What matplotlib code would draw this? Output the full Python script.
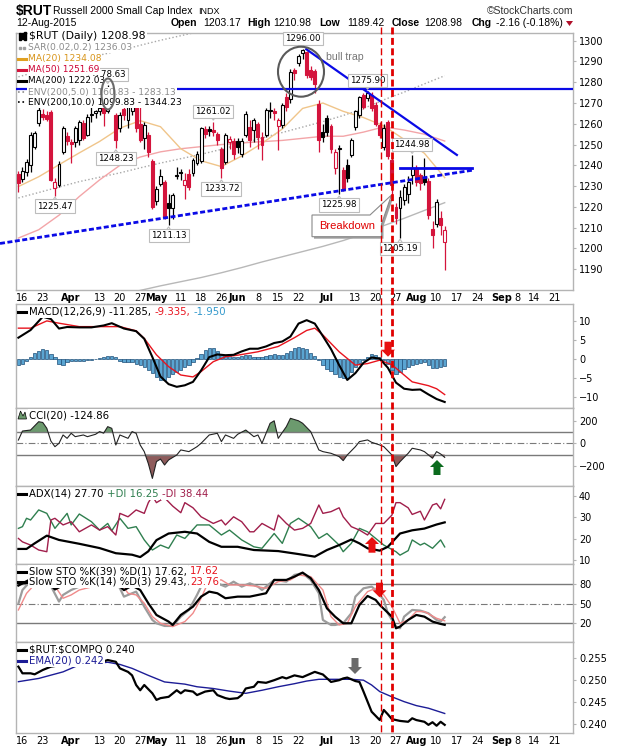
import matplotlib
matplotlib.use("Agg")
import matplotlib.pyplot as plt
from matplotlib.patches import Rectangle, Ellipse, Polygon
from matplotlib.lines import Line2D
import numpy as np

plt.rcParams['font.family'] = ['DejaVu Sans']
HEAD = ['Liberation Sans', 'DejaVu Sans']

W, H = 620, 750
RED = '#D4143C'

# trading day index: 0 = 13-Mar-2015 ... 105 = 12-Aug-2015
opens = [1236.0, 1233.5, 1237.0, 1240.0, 1249.0, 1260.3, 1264.6, 1264.0, 1265.9, 1229.0,
         1230.6, 1246.6, 1254.0, 1251.3, 1251.4, 1252.0, 1260.3, 1254.6, 1264.0, 1265.3,
         1266.0, 1268.0, 1266.0, 1275.0, 1264.0, 1257.8, 1267.2, 1262.0, 1266.0, 1268.0,
         1260.0, 1253.0, 1254.5, 1242.0, 1223.0, 1231.0, 1232.0, 1222.0, 1219.5, 1235.0,
         1237.0, 1230.5, 1236.0, 1236.4, 1241.0, 1242.0, 1257.5, 1257.5, 1257.0, 1255.0,
         1248.0, 1241.8, 1251.0, 1251.8, 1251.5, 1245.5, 1254.5, 1258.5, 1256.8, 1260.0,
         1253.8, 1254.6, 1266.0, 1266.0, 1259.0, 1259.4, 1273.0, 1271.8, 1285.9, 1289.4,
         1294.0, 1294.5, 1286.0, 1285.6, 1269.6, 1256.2, 1262.6, 1259.0, 1238.6, 1247.8,
         1237.6, 1240.0, 1245.0, 1258.5, 1264.0, 1273.7, 1272.3, 1274.0, 1269.0, 1259.4,
         1249.0, 1261.0, 1242.6, 1220.0, 1219.3, 1223.3, 1226.0, 1235.3, 1238.5, 1235.3,
         1233.7, 1232.4, 1209.6, 1212.0, 1214.5, 1203.17]
highs = [1237.5, 1239.0, 1243.0, 1256.0, 1256.5, 1268.0, 1267.0, 1266.0, 1266.5, 1234.0,
         1242.0, 1259.0, 1256.0, 1252.5, 1259.0, 1262.0, 1262.0, 1264.5, 1268.0, 1266.5,
         1270.0, 1271.0, 1278.63, 1277.0, 1265.0, 1265.5, 1269.0, 1269.0, 1272.0, 1269.0,
         1268.0, 1261.0, 1256.0, 1243.0, 1230.0, 1238.0, 1233.0, 1226.0, 1226.5, 1239.0,
         1238.0, 1236.5, 1238.0, 1243.5, 1247.0, 1258.5, 1259.0, 1259.0, 1261.02, 1256.0,
         1249.0, 1255.5, 1254.0, 1253.0, 1253.0, 1253.0, 1266.0, 1262.0, 1263.0, 1261.0,
         1256.0, 1267.5, 1270.5, 1267.5, 1263.0, 1270.0, 1275.0, 1286.5, 1287.0, 1293.5,
         1296.0, 1295.0, 1288.0, 1286.5, 1271.5, 1260.0, 1264.0, 1260.0, 1248.0, 1250.0,
         1239.0, 1243.0, 1253.0, 1266.5, 1273.5, 1275.0, 1275.9, 1275.5, 1270.5, 1261.0,
         1260.0, 1262.0, 1244.0, 1222.0, 1228.0, 1231.0, 1235.0, 1244.98, 1240.0, 1236.5,
         1243.4, 1234.0, 1213.0, 1224.0, 1218.0, 1210.98]
lows = [1227.0, 1232.0, 1235.0, 1237.0, 1248.0, 1259.0, 1262.0, 1261.5, 1232.5, 1225.47,
        1229.5, 1245.5, 1250.0, 1241.0, 1249.0, 1250.0, 1252.0, 1254.0, 1261.0, 1263.0,
        1264.0, 1259.0, 1265.0, 1270.0, 1248.23, 1256.0, 1262.0, 1258.0, 1264.0, 1256.0,
        1251.0, 1248.0, 1244.0, 1219.0, 1221.0, 1230.0, 1214.0, 1211.13, 1214.0, 1233.5,
        1233.0, 1224.0, 1228.0, 1235.0, 1240.0, 1241.0, 1253.0, 1254.0, 1254.0, 1250.0,
        1233.72, 1240.5, 1248.0, 1243.0, 1246.0, 1244.0, 1253.5, 1249.0, 1251.0, 1248.0,
        1242.6, 1253.5, 1263.0, 1262.0, 1247.5, 1258.0, 1266.0, 1270.0, 1281.0, 1288.0,
        1291.0, 1282.0, 1281.0, 1274.6, 1246.5, 1251.0, 1254.0, 1246.0, 1236.0, 1225.98,
        1227.5, 1232.0, 1244.0, 1257.0, 1263.0, 1267.0, 1271.0, 1266.0, 1259.0, 1253.0,
        1247.5, 1243.0, 1225.5, 1212.0, 1205.19, 1221.0, 1222.0, 1231.0, 1230.0, 1228.0,
        1230.5, 1214.0, 1200.0, 1210.5, 1206.6, 1189.42]
closes = [1231.5, 1237.5, 1241.5, 1254.6, 1255.5, 1266.7, 1263.5, 1262.5, 1233.0, 1232.2,
          1240.7, 1258.2, 1251.5, 1250.5, 1258.2, 1261.1, 1253.0, 1263.5, 1264.8, 1266.0,
          1267.5, 1265.0, 1276.0, 1273.0, 1252.3, 1264.3, 1264.0, 1268.0, 1270.5, 1258.0,
          1252.0, 1259.5, 1246.5, 1220.0, 1228.5, 1234.8, 1215.0, 1219.5, 1225.5, 1235.5,
          1236.2, 1233.0, 1229.6, 1242.8, 1245.5, 1257.8, 1255.0, 1256.5, 1256.0, 1252.0,
          1238.7, 1254.5, 1252.6, 1245.4, 1249.0, 1251.8, 1264.5, 1252.0, 1261.7, 1253.7,
          1249.8, 1266.6, 1266.8, 1265.0, 1261.8, 1269.0, 1268.2, 1285.0, 1284.3, 1292.7,
          1295.6, 1283.5, 1282.5, 1279.3, 1252.0, 1253.8, 1256.0, 1248.0, 1246.6, 1248.3,
          1228.8, 1233.7, 1252.0, 1266.0, 1272.9, 1268.0, 1274.7, 1267.5, 1260.0, 1254.6,
          1258.0, 1244.5, 1230.5, 1214.5, 1224.9, 1229.7, 1232.0, 1238.5, 1232.1, 1231.3,
          1232.1, 1216.0, 1206.4, 1222.5, 1211.14, 1208.98]

ma_idx = list(range(0, 106, 5))
ma20 = [1229.8, 1234.5, 1240.3, 1246.0, 1251.5, 1257.9, 1261.5, 1258.6, 1248.0, 1242.2, 1239.4,
        1244.5, 1250.6, 1257.5, 1267.4, 1270.0, 1266.0, 1263.0, 1259.0, 1252.5, 1245.8, 1234.08]
ma50 = [1205.0, 1209.0, 1216.0, 1225.0, 1233.0, 1240.0, 1244.0, 1246.5, 1248.0, 1249.0, 1250.0,
        1250.8, 1251.4, 1252.0, 1253.0, 1254.0, 1254.0, 1256.0, 1258.5, 1257.0, 1255.0, 1251.69]
ma200 = [1166.0, 1168.5, 1171.0, 1173.5, 1175.5, 1177.5, 1179.8, 1182.0, 1184.0, 1186.0, 1188.3,
         1190.8, 1193.5, 1196.0, 1198.5, 1201.0, 1203.8, 1207.0, 1211.0, 1214.5, 1218.3, 1222.03]

macd_idx = [0, 3, 6, 8, 10, 12, 15, 18, 21, 23, 26, 29, 31, 33, 35, 37, 39, 41, 43, 45, 47, 49,
            51, 53, 55, 57, 59, 61, 63, 65, 67, 69, 71, 73, 75, 77, 79, 81, 83, 85, 87, 89, 91,
            93, 95, 97, 99, 101, 103, 105]
macd_val = [5.6, 7.6, 11.1, 10.5, 8.0, 8.4, 8.3, 8.3, 8.8, 9.4, 8.0, 7.3, 5.3, 0.5, -4.6, -6.6,
            -7.3, -6.9, -6.0, -3.0, 0.5, 1.2, 1.0, 1.1, 2.0, 2.7, 2.7, 3.3, 4.2, 4.6, 5.9, 9.3,
            10.2, 9.3, 6.0, 2.6, -1.6, -5.5, -3.7, -1.0, 0.4, 0.1, -2.3, -6.2, -7.8, -8.1, -8.0,
            -9.3, -10.5, -11.285]
sig_idx = [0, 3, 7, 10, 15, 20, 25, 29, 31, 34, 37, 40, 43, 45, 48, 51, 54, 59, 64, 68, 71, 73,
           75, 79, 83, 86, 89, 92, 97, 101, 103, 105]
sig_val = [8.1, 8.1, 10.0, 9.4, 8.5, 8.5, 8.5, 7.4, 5.4, 1.1, -2.0, -4.2, -4.7, -3.3, -0.7, 0.6,
           1.0, 1.9, 3.3, 5.6, 7.5, 8.1, 6.3, 1.9, -1.6, -1.2, -0.3, -1.5, -6.0, -7.0, -7.8, -9.335]
hist = [-1.5, -1.2, -0.5, 0.5, 1.5, 2.2, 2.6, 2.4, 1.2, 0.5,
        -1.2, -1.6, -0.8, -0.6, -0.5, -0.4, -0.5, -0.3, -0.2, 0.1,
        0.3, 0.5, 0.7, 0.8, 0.5, -0.6, -0.7, -0.8, -0.9, -1.2,
        -1.5, -2.0, -2.8, -3.8, -4.8, -5.5, -5.4, -4.8, -4.0, -3.4,
        -2.8, -2.2, -1.5, -0.9, 0.2, 1.4, 2.4, 3.0, 2.8, 2.0,
        1.0, 0.8, 0.9, 0.6, 0.5, 0.8, 1.0, 1.0, 0.6, 0.4,
        0.5, 0.8, 1.0, 1.2, 1.0, 1.1, 1.5, 2.2, 2.8, 3.2,
        3.0, 2.5, 1.5, 0.8, -0.2, -1.5, -2.5, -3.2, -4.0, -4.6,
        -5.0, -5.0, -3.5, -2.2, -1.0, -0.3, 0.6, 1.2, 1.0, 0.4,
        -0.3, -1.2, -2.8, -4.0, -3.4, -2.6, -2.0, -1.6, -1.2, -1.0,
        -0.9, -1.6, -2.4, -2.3, -2.0, -1.95]

cci_idx = [0, 1, 3, 5, 6, 7, 8, 9, 10, 11, 12, 13, 14, 16, 17, 19, 20, 21, 22, 23, 24, 25, 27,
           28, 29, 30, 31, 32, 33, 34, 35, 36, 37, 39, 40, 42, 44, 45, 47, 49, 50, 51, 53, 54,
           56, 58, 59, 60, 62, 63, 64, 66, 67, 69, 70, 72, 74, 75, 77, 79, 80, 81, 83, 84, 86,
           87, 89, 90, 92, 93, 94, 96, 97, 99, 100, 102, 103, 104, 105]
cci_val = [29, 109, 118, 192, 185, 133, 20, -30, 0, 74, 44, 89, 59, 74, 59, 80, 104, 90, 148,
           133, -15, 74, 44, 104, 89, -15, -74, -180, -312, -163, -140, -193, -148, -104, -59,
           -74, -30, 0, 74, 89, 15, 74, 44, 80, 118, 59, 74, 0, 178, 200, 44, 148, 222, 200,
           178, 104, -59, -74, -89, -118, -154, -104, -30, 15, 30, 9, -15, -30, -104, -207,
           -163, -89, -44, -59, -74, -133, -74, -95, -124.86]

adx_idx = [0, 2, 4, 7, 10, 15, 20, 24, 28, 30, 32, 34, 37, 41, 44, 47, 50, 54, 58, 64, 69, 73,
           76, 79, 82, 84, 86, 89, 91, 94, 97, 100, 103, 105]
adx_val = [15.3, 15.3, 17.9, 21.5, 19.5, 17.7, 15.7, 13.3, 12.6, 11.5, 14.2, 19.4, 22.5, 23.3,
           22.5, 18.6, 16.3, 16.3, 14.8, 14.3, 12.9, 11.7, 14.8, 17.1, 19.7, 17.9, 15.6, 14.5,
           16.3, 22.5, 24.0, 24.8, 26.7, 27.7]
pdi_idx = [0, 1, 2, 3, 5, 7, 9, 12, 13, 15, 18, 20, 22, 23, 25, 27, 29, 31, 33, 35, 37, 39, 41,
           44, 47, 50, 52, 55, 58, 60, 63, 65, 67, 69, 72, 74, 76, 79, 80, 82, 84, 86, 88, 90,
           93, 94, 96, 97, 99, 100, 102, 104, 105]
pdi_val = [24.9, 25.7, 29.6, 28.8, 33.5, 31.9, 24.9, 31.9, 26.5, 31.6, 28.0, 24.1, 27.2, 23.8,
           29.6, 24.9, 25.7, 19.5, 14.8, 17.1, 15.6, 21.8, 20.2, 26.5, 26.5, 21.8, 24.1, 19.5,
           16.3, 15.6, 22.5, 17.9, 27.2, 29.6, 25.7, 20.2, 22.5, 17.1, 14.0, 17.9, 24.9, 23.3,
           20.2, 17.1, 14.0, 12.4, 14.5, 19.5, 17.1, 18.0, 15.6, 19.5, 16.25]
mdi_idx = [0, 1, 3, 5, 7, 8, 9, 11, 13, 15, 18, 20, 22, 24, 25, 27, 29, 31, 32, 33, 34, 36, 38,
           40, 41, 43, 45, 48, 50, 51, 53, 55, 57, 58, 60, 63, 64, 66, 68, 70, 72, 74, 75, 77,
           79, 80, 82, 84, 86, 88, 90, 92, 93, 94, 96, 97, 99, 100, 102, 103, 104, 105]
mdi_val = [20.2, 18.6, 17.1, 14.8, 14.0, 28.8, 29.6, 26.5, 28.0, 23.3, 26.5, 24.1, 25.7, 21.8,
           31.9, 30.3, 33.5, 31.9, 36.9, 40.0, 36.9, 39.2, 35.3, 32.2, 36.9, 34.5, 30.3, 27.2,
           28.8, 26.5, 30.3, 28.0, 23.3, 23.3, 27.2, 24.1, 31.1, 27.2, 24.1, 24.9, 27.2, 35.8,
           31.9, 32.7, 34.5, 30.3, 25.7, 24.1, 21.8, 27.2, 27.2, 31.1, 36.9, 36.9, 34.5, 31.4,
           32.9, 28.8, 35.8, 36.5, 34.0, 38.44]

sto39_idx = [0, 3, 6, 9, 12, 16, 20, 23, 26, 28, 30, 32, 34, 37, 38, 40, 43, 45, 47, 49, 51, 54,
             57, 59, 61, 63, 66, 68, 70, 72, 74, 76, 78, 80, 82, 84, 86, 88, 89, 92, 93, 94, 96,
             98, 100, 102, 104, 105]
sto39_val = [78, 88, 92, 72, 82, 86, 88, 88, 71, 78, 71.2, 50.8, 32.8, 22.6, 17.4, 32.8, 45.6,
             61.0, 68.7, 66.2, 58.5, 61.0, 61.0, 63.6, 66.2, 86.7, 86.7, 91.8, 98.0, 89.3, 71.2,
             43.0, 30.2, 20.0, 20.0, 48.2, 62.0, 55.9, 48.2, 30.2, 12.3, 14.9, 25.1, 32.8, 30.2,
             22.6, 19.0, 17.62]
sto14_idx = [0, 1, 4, 7, 10, 11, 13, 15, 19, 22, 24, 26, 27, 29, 31, 33, 34, 36, 38, 40, 42, 44,
             46, 47, 49, 51, 53, 55, 57, 59, 60, 63, 66, 68, 70, 72, 74, 75, 77, 78, 80, 82, 83,
             85, 87, 88, 90, 91, 93, 94, 95, 97, 99, 101, 103, 104, 105]
sto14_val = [50.3, 71.2, 91.8, 89.3, 53.4, 63.6, 71.2, 76.4, 81.5, 86.7, 86.7, 61.0, 63.6, 68.7,
             45.6, 25.1, 20.0, 15.9, 15.9, 30.2, 40.5, 63.6, 89.3, 91.8, 81.5, 76.4, 84.0, 76.4,
             81.5, 76.4, 71.2, 86.7, 84.0, 94.4, 97.0, 86.7, 66.2, 25.1, 17.4, 17.4, 20.0, 35.4,
             61.0, 73.8, 76.4, 71.2, 55.9, 35.4, 14.9, 12.3, 30.2, 40.5, 39.5, 35.4, 25.1, 22.6,
             29.43]
stod_idx = [0, 2, 5, 8, 11, 13, 15, 19, 23, 25, 27, 29, 31, 33, 35, 38, 41, 43, 45, 47, 50, 52,
            55, 58, 61, 64, 67, 69, 72, 75, 77, 79, 81, 83, 86, 88, 90, 92, 94, 96, 98, 100, 103,
            105]
stod_val = [40.5, 66.0, 86.7, 86.7, 58.5, 63.6, 71.2, 77.4, 82.5, 84.0, 66.2, 63.6, 50.8, 30.2,
            20.0, 14.9, 22.6, 35.4, 58.5, 86.7, 86.7, 79.0, 79.0, 77.4, 73.8, 84.0, 86.7, 94.4,
            91.8, 71.2, 30.2, 17.4, 20.0, 45.6, 68.7, 73.8, 63.6, 45.6, 20.0, 25.1, 38.0, 38.0,
            27.7, 23.76]

ratio_idx = [0, 1, 3, 4, 6, 8, 9, 11, 13, 15, 17, 20, 22, 24, 25, 27, 28, 29, 30, 31, 33, 34,
             35, 37, 39, 40, 41, 43, 44, 46, 48, 49, 51, 52, 54, 55, 56, 58, 59, 61, 63, 65, 66,
             68, 70, 73, 75, 77, 79, 80, 81, 83, 84, 85, 86, 87, 89, 90, 91, 92, 94, 96, 97, 98,
             100, 101, 102, 103, 104, 105]
ratio_val = [0.25309, 0.25157, 0.25157, 0.25134, 0.25233, 0.25309, 0.25324, 0.2545, 0.2552,
             0.2548, 0.2535, 0.2540, 0.2546, 0.2542, 0.2527, 0.2519, 0.2511, 0.2489, 0.2477,
             0.2489, 0.2470, 0.2455, 0.2459, 0.2462, 0.2477, 0.2470, 0.2477, 0.2474, 0.2466,
             0.2474, 0.2477, 0.2466, 0.2459, 0.2457, 0.2459, 0.2466, 0.2481, 0.2485, 0.2496,
             0.2494, 0.2500, 0.2507, 0.2504, 0.2511, 0.2507, 0.2519, 0.2513, 0.2496, 0.2500,
             0.2504, 0.2506, 0.2498, 0.2496, 0.2474, 0.2451, 0.2428, 0.2409, 0.2432, 0.2422,
             0.2411, 0.2407, 0.2405, 0.2413, 0.2409, 0.2405, 0.2398, 0.2404, 0.2396, 0.2405,
             0.2398]
ema_idx = [0, 5, 11, 15, 19, 22, 25, 28, 32, 36, 41, 44, 48, 52, 56, 60, 64, 68, 71, 74, 78, 82,
           85, 87, 89, 92, 95, 98, 101, 103, 105]
ema_val = [0.24966, 0.2504, 0.2519, 0.2535, 0.2538, 0.2541, 0.2536, 0.2527, 0.2511, 0.2496,
           0.2491, 0.2485, 0.2481, 0.2475, 0.2470, 0.2477, 0.2485, 0.2492, 0.2498, 0.2502,
           0.2502, 0.2502, 0.2500, 0.2489, 0.2474, 0.2462, 0.2451, 0.2442, 0.2436, 0.2430,
           0.2424]

tick_idx = [1, 6, 13, 20, 25, 30, 34, 40, 45, 50, 54, 59, 64, 69, 76, 83, 88, 93, 98, 103,
            108, 113, 119, 123, 127, 132]
tick_lbl = ['16', '23', 'Apr', '13', '20', '27', 'May', '11', '18', '26', 'Jun', '8', '15',
            '22', 'Jul', '13', '20', '27', 'Aug', '10', '17', '24', 'Sep', '8', '14', '21']
months = ['Apr', 'May', 'Jun', 'Jul', 'Aug', 'Sep']

# annotations drawn on the price chart (trading-day index, price)
resistance = 1276.8
falling_line = [(70.9, 1295.9), (108.0, 1245.0)]
rising_line = [(-4.53, 1202.4), (112.3, 1237.8)]
short_line = [(94.0, 1238.9), (111.8, 1238.9)]
tag_high = [70, 86, 48, 97, 22]
tag_low = [24, 9, 50, 37, 79, 94]
event_days = [89.2, 92.0]


def fx(x):
    return x / W


def fy(y):
    return 1 - y / H


fig = plt.figure(figsize=(W / 100, H / 100), dpi=100)
fig.patch.set_facecolor('white')
rend = fig.canvas.get_renderer()

X0, X1 = 15.8, 573.4


def panel(y0, y1, ylim, ticks):
    ax = fig.add_axes([fx(X0), fy(y1), (X1 - X0) / W, (y1 - y0) / H])
    ax.set_xlim(-0.64, 136.7)
    ax.set_ylim(*ylim)
    for s in ax.spines.values():
        s.set_color('#B4B4B4')
        s.set_linewidth(1)
    ax.yaxis.tick_right()
    ax.set_yticks(ticks)
    ax.tick_params(axis='y', labelsize=7, length=2, color='#B4B4B4', pad=2)
    ax.tick_params(axis='x', length=0, labelbottom=False)
    return ax


def date_axis(ax):
    ax.set_xticks(tick_idx)
    ax.set_xticklabels(tick_lbl)
    ax.tick_params(axis='x', labelbottom=True, labelsize=7, length=0, pad=2)
    for t in ax.get_xticklabels():
        if t.get_text() in months:
            t.set_fontweight('bold')


ax_p = panel(33, 290, (1180.0, 1303.7), list(range(1190, 1301, 10)))
ax_m = panel(304, 408, (-12.86, 14.44), [-10, -5, 0, 5, 10])
ax_c = panel(408, 486, (-379.6, 313.8), [-200, 0, 200])
ax_a = panel(486, 564, (8.27, 44.67), [10, 20, 30, 40])
ax_s = panel(564, 642, (-8.8, 111.2), [20, 50, 80])
ax_r = panel(642, 733, (0.23794, 0.25872), [0.240, 0.245, 0.250, 0.255])
ax_r.set_yticklabels(['0.240', '0.245', '0.250', '0.255'])
date_axis(ax_p)
date_axis(ax_r)

# ---- price panel ----
env5 = [v * 1.05 for v in ma200]
env10 = [v * 1.10 for v in ma200]
ax_p.plot(ma_idx, env5, color='#A8A8A8', lw=1, ls=(0, (1, 1.6)), zorder=1)
ax_p.plot(ma_idx, env10, color='#A8A8A8', lw=1, ls=(0, (1, 1.6)), zorder=1)
ax_p.plot(ma_idx, ma200, color='#B8B8B8', lw=1, zorder=1)
ax_p.plot(ma_idx, ma50, color='#F3A5A8', lw=1, zorder=1)
ax_p.plot(ma_idx, ma20, color='#F0C58A', lw=1, zorder=1)

for i in range(len(closes)):
    o, h, l, c = opens[i], highs[i], lows[i], closes[i]
    prev = closes[i - 1] if i else o
    col = RED if c < prev else 'black'
    ax_p.plot([i, i], [l, h], color=col, lw=0.9, zorder=3, solid_capstyle='butt')
    lo, hi = min(o, c), max(o, c)
    ax_p.add_patch(Rectangle((i - 0.36, lo), 0.72, max(hi - lo, 0.35),
                             facecolor=col if c < o else 'white', edgecolor=col,
                             lw=0.8, zorder=4))

BLUE = '#0A0AE6'
ax_p.axhline(resistance, color=BLUE, lw=1.6, zorder=5)
ax_p.plot(*zip(*falling_line), color=BLUE, lw=1.6, zorder=5)
ax_p.plot(*zip(*short_line), color=BLUE, lw=2, zorder=5, clip_on=False)
ax_p.plot(*zip(*rising_line), color=BLUE, lw=2, ls=(0, (1.8, 0.9)), zorder=5,
          clip_on=False)

# ---- MACD ----
ax_m.bar(range(len(hist)), hist, width=0.8, color='#5AA5D2', edgecolor='#1E4F78', lw=0.5,
         zorder=2)
ax_m.plot(sig_idx, sig_val, color='#E8141E', lw=1, zorder=3)
ax_m.plot(macd_idx, macd_val, color='black', lw=1.5, zorder=4)

# ---- CCI ----
cv = np.array(cci_val, dtype=float)
ax_c.fill_between(cci_idx, cv, 100, where=cv >= 100, interpolate=True, color='#6C9A6E',
                  lw=0, zorder=1)
ax_c.fill_between(cci_idx, cv, -100, where=cv <= -100, interpolate=True, color='#8E5B5B',
                  lw=0, zorder=1)
for lvl in (100, -100):
    ax_c.axhline(lvl, color='#7A7A7A', lw=1, zorder=2)
ax_c.axhline(0, color='#7A7A7A', lw=0.8, ls=(0, (6, 2, 1, 2)), zorder=2)
ax_c.plot(cci_idx, cci_val, color='#222222', lw=0.8, zorder=3)

# ---- ADX ----
ax_a.plot(pdi_idx, pdi_val, color='#2F7F4F', lw=1, zorder=2)
ax_a.plot(mdi_idx, mdi_val, color='#A01E4B', lw=1, zorder=2)
ax_a.plot(adx_idx, adx_val, color='black', lw=1.6, zorder=3)

# ---- Stochastics ----
for lvl in (80, 20):
    ax_s.axhline(lvl, color='#7A7A7A', lw=1, zorder=1)
ax_s.axhline(50, color='#7A7A7A', lw=0.8, ls=(0, (6, 2, 1, 2)), zorder=1)
ax_s.plot(sto14_idx, sto14_val, color='#9C9C9C', lw=1.6, zorder=2)
ax_s.plot(stod_idx, stod_val, color='#F08A8A', lw=1, zorder=3)
ax_s.plot(sto39_idx, sto39_val, color='black', lw=1.6, zorder=4)

# ---- ratio ----
ax_r.plot(ema_idx, ema_val, color='#1C1C96', lw=1, zorder=2)
ax_r.plot(ratio_idx, ratio_val, color='black', lw=1.6, zorder=3)


# ---- text helpers ----
def chain(x, y, parts, size=7.3, family=None, z=8, bg=True):
    for s, col, wt in parts:
        kw = dict(color=col, fontsize=size, fontweight=wt, va='center', ha='left', zorder=z)
        if family:
            kw['family'] = family
        if bg:
            kw['bbox'] = dict(boxstyle='square,pad=0.1', fc='white', ec='none')
        t = fig.text(fx(x), fy(y), s, **kw)
        x += t.get_window_extent(renderer=rend).width + 3.5
    return x


def icon(y, color, style='-'):
    if style == 'sq':
        for xx in (18.5, 22.5):
            fig.add_artist(Rectangle((fx(xx), fy(y + 1.3)), 2.6 / W, 2.6 / H,
                                     transform=fig.transFigure, color=color, zorder=9))
        return
    fig.add_artist(Line2D([fx(18), fx(26)], [fy(y), fy(y)], color=color,
                          lw=1.2 if style == ':' else 2.2, ls=style,
                          transform=fig.transFigure, zorder=9))


def block_arrow(cx, y_tail, y_tip, color, hw=14, sw=7, hl=7):
    d = 1 if y_tip > y_tail else -1
    yn = y_tip - d * hl
    pts = [(cx - sw / 2, y_tail), (cx + sw / 2, y_tail), (cx + sw / 2, yn), (cx + hw / 2, yn),
           (cx, y_tip), (cx - hw / 2, yn), (cx - sw / 2, yn)]
    fig.add_artist(Polygon([(fx(a), fy(b)) for a, b in pts], closed=True,
                           transform=fig.transFigure, fc=color, ec='none', zorder=9))


# ---- header ----
fig.text(fx(16), fy(10.7), r'\$RUT', fontsize=10, fontweight='bold', family=HEAD, va='center')
fig.text(fx(53.4), fy(10.7), 'Russell 2000 Small Cap Index', fontsize=7.5, family=HEAD,
         va='center')
fig.text(fx(198), fy(11.2), 'INDX', fontsize=6.5, family=HEAD, va='center')
fig.text(fx(X1), fy(10.7), '\u00a9StockCharts.com', fontsize=7.5, family=HEAD,
         va='center', ha='right', color='#333333')
fig.text(fx(16), fy(23.3), '12-Aug-2015', fontsize=7.5, family=HEAD, va='center')
chg = closes[-1] - closes[-2]
pct = chg / closes[-2] * 100
row = [(170.8, 'Open', 'bold'), (203.6, f'{opens[-1]:.2f}', 'normal'),
       (247.1, 'High', 'bold'), (273.6, f'{highs[-1]:.2f}', 'normal'),
       (319.5, 'Low', 'bold'), (347.6, f'{lows[-1]:.2f}', 'normal'),
       (391.5, 'Close', 'bold'), (423.9, f'{closes[-1]:.2f}', 'normal'),
       (471.7, 'Chg', 'bold'), (495.8, f'{chg:.2f} ({pct:.2f}%)', 'normal')]
for xx, s, wt in row:
    fig.text(fx(xx), fy(23.3), s, fontsize=7.5, fontweight=wt, family=HEAD, va='center')
fig.add_artist(Polygon([(fx(566), fy(21)), (fx(573), fy(21)), (fx(569.5), fy(26))],
                       closed=True, transform=fig.transFigure, fc='#B0102A', ec='none'))

# ---- legends ----
for xx, hh in ((18.5, 7), (21.5, 5), (24.5, 8)):
    fig.add_artist(Rectangle((fx(xx), fy(36 + hh / 2)), 2 / W, hh / H,
                             transform=fig.transFigure, color='black', zorder=9))
chain(29, 36, [(r'\$RUT (Daily) 1208.98', 'black', 'normal')], size=7.8)
icon(48, '#A0A0A0', 'sq')
chain(28, 47.5, [('SAR(0.02,0.2) 1236.03', '#8C8C8C', 'normal')], size=6.6)
icon(58.5, '#E0A020')
chain(28, 58.5, [(f'MA(20) {ma20[-1]:.2f}', '#D89418', 'normal')], size=6.6)
icon(70, RED)
chain(28, 69.5, [(f'MA(50) {ma50[-1]:.2f}', '#CC0033', 'normal')], size=6.4)
icon(81, 'black')
chain(28, 81, [(f'MA(200) {ma200[-1]:.2f}', 'black', 'normal')], size=6.4)
icon(92, '#8C8C8C', ':')
chain(28, 92, [('ENV(200,5.0) 1160.83 - 1283.13', '#8C8C8C', 'normal')], size=6.6)
icon(102.3, 'black', ':')
chain(28, 102.3, [('ENV(200,10.0) 1099.83 - 1344.23', 'black', 'normal')], size=6.6)

icon(311.7, 'black')
chain(29, 311.7, [(f'MACD(12,26,9) {macd_val[-1]:.3f},', 'black', 'normal'),
                  (f'{sig_val[-1]:.3f},', '#E8141E', 'normal'),
                  (f'{hist[-1]:.3f}', '#3399CC', 'normal')])
fig.add_artist(Polygon([(fx(18), fy(419)), (fx(20.5), fy(411)), (fx(23), fy(416)),
                        (fx(25), fy(412)), (fx(26.5), fy(419))], closed=True,
                       transform=fig.transFigure, fc='#6C9A6E', ec='black', lw=0.5, zorder=9))
chain(29, 415, [(f'CCI(20) {cci_val[-1]:.2f}', 'black', 'normal')])
icon(494, 'black')
chain(29, 494, [(f'ADX(14) {adx_val[-1]:.2f}', 'black', 'normal'),
                (f'+DI {pdi_val[-1]:.2f}', '#2F7F4F', 'normal'),
                (f'-DI {mdi_val[-1]:.2f}', '#A01E4B', 'normal')])
icon(571.5, 'black')
chain(29, 571.5, [(f'Slow STO %K(39) %D(1) {sto39_val[-1]:.2f},', 'black', 'normal'),
                  (f'{sto39_val[-1]:.2f}', '#E8141E', 'normal')])
icon(582, 'black')
chain(29, 582, [(f'Slow STO %K(14) %D(3) {sto14_val[-1]:.2f},', 'black', 'normal'),
                (f'{stod_val[-1]:.2f}', '#E8141E', 'normal')])
icon(650, 'black')
chain(29, 650, [(rf'\$RUT:\$COMPQ {ratio_val[-1]:.3f}', 'black', 'normal')])
icon(660.5, '#1C1C96')
chain(29, 660.5, [(f'EMA(20) {ema_val[-1]:.3f}', '#1C1C96', 'normal')])


# ---- price tags ----
def tag(i, val, above):
    xd, yd = ax_p.transData.transform((i, val))
    yp = H - yd
    cy = yp - 10.5 if above else yp + 10.5
    fig.text(xd / W, fy(cy), f'{val:.2f}', fontsize=6.2, ha='center', va='center', zorder=7,
             bbox=dict(boxstyle='square,pad=0.25', fc='white', ec='#BDBDBD', lw=0.8))
    edge = cy + 4.5 if above else cy - 4.5
    tip = yp - 1.5 if above else yp + 1.5
    fig.add_artist(Polygon([(fx(xd - 3), fy(edge)), (fx(xd + 3), fy(edge)),
                            (fx(xd), fy(tip))], closed=True, transform=fig.transFigure,
                           fc='white', ec='#BDBDBD', lw=0.8, zorder=6.9))


for i in tag_high:
    tag(i, highs[i], True)
for i in tag_low:
    tag(i, lows[i], False)

# ---- annotations ----
fig.add_artist(Ellipse((fx(301), fy(71.7)), 46 / W, 50 / H, transform=fig.transFigure,
                       fill=False, ec='#5A5A5A', lw=1.5, zorder=9))
fig.add_artist(Ellipse((fx(108), fy(94)), 13 / W, 31 / H, transform=fig.transFigure,
                       fill=False, ec='#6A6A6A', lw=1.5, zorder=9))
fig.text(fx(326), fy(56.7), 'bull trap', fontsize=7.6, family=HEAD, color='#777777',
         va='center', zorder=9)

call = [(312, 215), (370, 215), (391.5, 195), (381.5, 224), (381.5, 236.7), (312, 236.7)]
fig.add_artist(Polygon([(fx(a + 2), fy(b + 2)) for a, b in call], closed=True,
                       transform=fig.transFigure, fc='#A0A0A0', ec='none', zorder=8))
fig.add_artist(Polygon([(fx(a), fy(b)) for a, b in call], closed=True,
                       transform=fig.transFigure, fc='white', ec='#8A8A8A', lw=0.8,
                       zorder=8.5))
fig.text(fx(346.7), fy(226), 'Breakdown', fontsize=8, family=HEAD, color='#E00000',
         ha='center', va='center', zorder=9)

for d, lw in zip(event_days, (1.0, 2.0)):
    xd = ax_p.transData.transform((d, 1250))[0]
    fig.add_artist(Line2D([xd / W, xd / W], [fy(27), fy(733)], color='#E00000', lw=lw,
                          ls=(0, (5 / lw, 2.5 / lw)), transform=fig.transFigure, zorder=10))

block_arrow(388, 341.7, 356.7, '#E81010')
block_arrow(372, 552.7, 537, '#E81010')
block_arrow(379.5, 582.7, 597.3, '#E81010')
block_arrow(437, 475, 460, '#0B6B1E')
block_arrow(355, 658, 674, '#6A6A6A')

fig.savefig('out.png', dpi=100, facecolor='white')
